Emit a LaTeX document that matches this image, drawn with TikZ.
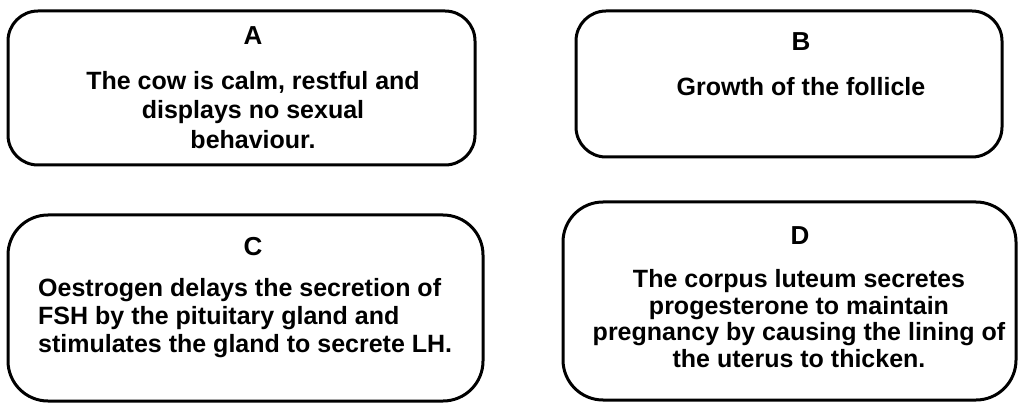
\documentclass[tikz,border=0pt]{standalone}
\usepackage{fontspec}
\setmainfont{Liberation Sans}
\begin{document}
\begin{tikzpicture}[x=1pt,y=-1pt,
  card/.style={line width=3pt, rounded corners=#1},
  card/.default=30pt,
  letter/.style={font=\fontsize{26}{30}\selectfont\bfseries, inner sep=0pt},
  info/.style={font=\fontsize{25}{#1}\selectfont\bfseries, inner sep=0pt}]
\useasboundingbox (0,0) rectangle (1019,403);
\draw[card] (8,11) rectangle (475,165);
\draw[card] (576,11) rectangle (1002,157);
\draw[card=40pt] (8,215) rectangle (483,401);
\draw[card=40pt] (563,202) rectangle (1016,400);
\node[letter] (la) at (253,36) {A};
\node[info=29.5, anchor=north, align=center] (ta) at (253,71) {The cow is calm, restful and\\ displays no sexual\\ behaviour.};
\node[letter] (lb) at (801,42) {B};
\node[info=29, anchor=north, align=center] (tb) at (801,77) {Growth of the follicle};
\node[letter] (lc) at (253,247) {C};
\node[info=28, anchor=north west, align=left] (tc) at (38,278) {Oestrogen delays the secretion of\\ FSH by the pituitary gland and\\ stimulates the gland to secrete LH.};
\node[letter] (ld) at (800,236) {D};
\node[info=26.8, anchor=north, align=center] (td) at (799,269) {The corpus luteum secretes\\ progesterone to maintain\\ pregnancy by causing the lining of\\ the uterus to thicken.};
\end{tikzpicture}
\end{document}
